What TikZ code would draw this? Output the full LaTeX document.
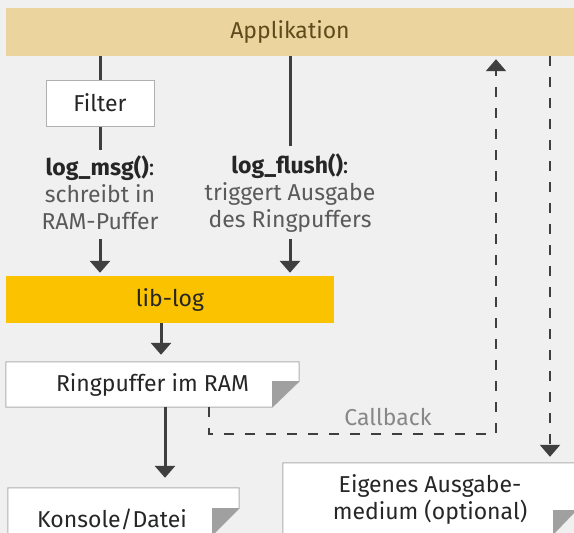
\documentclass[tikz,border=0pt]{standalone}
\usepackage{fontspec}
\setmainfont{Fira Sans}
\usetikzlibrary{arrows.meta}
\pgfdeclarelayer{back}
\pgfsetlayers{back,main}
\definecolor{bgc}{HTML}{F0F0F0}
\definecolor{appc}{HTML}{EBD49E}
\definecolor{appt}{HTML}{5E4A1B}
\definecolor{libc}{HTML}{FBC200}
\definecolor{txtc}{HTML}{262626}
\definecolor{descc}{HTML}{5A5A5A}
\definecolor{foldc}{HTML}{A0A0A0}
\definecolor{bordc}{HTML}{B0B0B0}
\definecolor{linec}{HTML}{3F3F3F}
\definecolor{cbc}{HTML}{878787}
\newcommand\foldshape[3]{%
  \begin{pgfonlayer}{back}
    \filldraw[fill=white, draw=bordc, line width=1pt]
      (#1.north west) -- (#1.north east) -- ([yshift=#3]#1.south east)
      -- ([xshift=-#2]#1.south east) -- (#1.south west) -- cycle;
    \fill[foldc] ([xshift=-#2,yshift=#3]#1.south east) -- ([yshift=#3]#1.south east)
      -- ([xshift=-#2]#1.south east) -- cycle;
  \end{pgfonlayer}}
\tikzset{
  every node/.style={font=\fontsize{23}{27}\selectfont, text=txtc, inner sep=0pt},
  bar/.style={rectangle, anchor=center},
  plainbox/.style={rectangle, fill=white, draw=bordc, line width=1pt},
  foldbox/.style={rectangle, draw=none},
  desc/.style={align=center},
  ln/.style={draw=linec, line width=3pt},
  arr/.style={ln, -{Triangle[width=20pt,length=12pt]}},
  dsh/.style={draw=linec, line width=2.5pt, dash pattern=on 9.5pt off 11.5pt},
  darr/.style={dsh, -{Triangle[width=20pt,length=12pt]}},
}
\begin{document}
\begin{tikzpicture}[x=1pt,y=-1pt]
\useasboundingbox (0,0) rectangle (574,533);
\clip (0,0) rectangle (574,533);
\begin{pgfonlayer}{back}
\fill[bgc] (0,0) rectangle (574,533);
\end{pgfonlayer}

\node[bar, fill=appc, text=appt, minimum width=568pt, minimum height=48pt] (app) at (290,32) {Applikation};
\node[plainbox, minimum width=108pt, minimum height=46pt] (filter) at (100,103) {Filter};
\node[desc] (msg) at (100,193) {\textbf{log\_msg()}:\\\textcolor{descc}{schreibt in}\\\textcolor{descc}{RAM-Puffer}};
\node[desc] (flush) at (290,193) {\textbf{log\_flush()}:\\\textcolor{descc}{triggert Ausgabe}\\\textcolor{descc}{des Ringpuffers}};
\node[bar, fill=libc, minimum width=328pt, minimum height=47pt] (lib) at (170,299.5) {lib-log};

\node[foldbox, minimum width=293pt, minimum height=45pt] (ring) at (152.5,384.5) {Ringpuffer im RAM};
\foldshape{ring}{27pt}{26pt}
\node[foldbox, minimum width=231pt, minimum height=47pt] (kon) at (123.5,511.5) {};
\foldshape{kon}{27pt}{27pt}
\node (kontext) at (112,519) {Konsole/Datei};
\node[foldbox, minimum width=293pt, minimum height=71pt] (eig) at (429.5,498.5) {};
\foldshape{eig}{23pt}{24pt}
\node[desc] (eigtext) at (430,499.5) {Eigenes Ausgabe-\\medium (optional)};

\node[text=cbc] (cb) at (388,417) {Callback};

\coordinate (msgtop) at (100,150);
\coordinate (msgarr) at (100,239);
\coordinate (flushtop) at (290,146);
\coordinate (flusharr) at (290,239);
\coordinate (cbx) at (496,434);
\coordinate (rx) at (550,0);

\draw[ln] (app.south -| filter) -- (filter.north);
\draw[ln] (filter.south) -- (msgtop);
\draw[ln] (app.south -| flushtop) -- (flushtop);
\draw[arr, shorten >=3pt] (msgarr) -- (msgarr |- lib.north);
\draw[arr, shorten >=3pt] (flusharr) -- (flusharr |- lib.north);
\draw[arr, shorten >=7pt] ([xshift=-9pt]lib.south) -- ([xshift=-9pt]lib.south |- ring.north);
\draw[arr, shorten >=10pt] ([xshift=12.5pt]ring.south) -- ([xshift=12.5pt]ring.south |- kon.north);
\draw[darr, shorten >=3pt] ([xshift=56.5pt]ring.south) -- ([xshift=56.5pt]ring.south |- cbx) -- (cbx) -- (cbx |- app.south);
\draw[darr, shorten >=6pt] (app.south -| rx) -- (rx |- eig.north);
\end{tikzpicture}
\end{document}
